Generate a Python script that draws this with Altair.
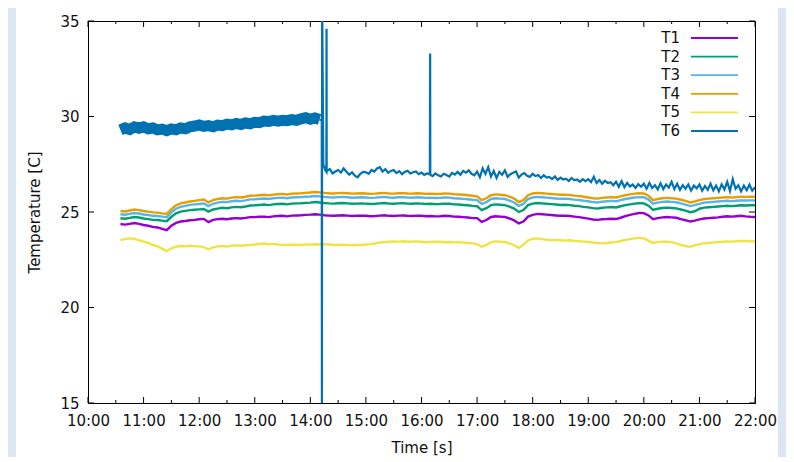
import altair as alt
import pandas as pd

series_names = ["T1", "T2", "T3", "T4", "T5", "T6"]
series_colors = ["#9400d3", "#009e73", "#56b4e9", "#e69f00", "#f0e442", "#0072b2"]

# 5-minute readings, 10:35 .. 22:00
t1 = [24.37, 24.34, 24.38, 24.42, 24.38,
      24.32, 24.28, 24.22, 24.19, 24.12, 24.05, 24.28, 24.43, 24.50, 24.53, 24.57, 24.59,
      24.62, 24.64, 24.47, 24.59, 24.63, 24.65, 24.62, 24.66, 24.68, 24.66, 24.69, 24.73,
      24.73, 24.75, 24.76, 24.73, 24.77, 24.79, 24.80, 24.77, 24.81, 24.82, 24.83, 24.85,
      24.86, 24.88, 24.86, 24.83, 24.81, 24.80, 24.82, 24.83, 24.81, 24.79, 24.80, 24.81,
      24.80, 24.78, 24.79, 24.81, 24.83, 24.80, 24.79, 24.81, 24.82, 24.80, 24.79, 24.81,
      24.80, 24.78, 24.79, 24.77, 24.78, 24.80, 24.79, 24.76, 24.75, 24.73, 24.71, 24.68,
      24.68, 24.48, 24.58, 24.74, 24.78, 24.76, 24.74, 24.66, 24.56, 24.40, 24.50, 24.76,
      24.85, 24.90, 24.88, 24.86, 24.84, 24.82, 24.80, 24.81, 24.79, 24.76, 24.73, 24.69,
      24.65, 24.61, 24.59, 24.62, 24.63, 24.65, 24.63, 24.70, 24.78, 24.85, 24.90, 24.95,
      24.94, 24.82, 24.62, 24.68, 24.72, 24.74, 24.72, 24.70, 24.63, 24.57, 24.50, 24.55,
      24.61, 24.66, 24.68, 24.70, 24.72, 24.75, 24.78, 24.76, 24.78, 24.80, 24.77, 24.75,
      24.74]
t2 = [24.67, 24.65, 24.69, 24.74, 24.71,
      24.66, 24.63, 24.59, 24.58, 24.55, 24.52, 24.75, 24.93, 25.02, 25.06, 25.10, 25.12,
      25.14, 25.16, 25.02, 25.13, 25.18, 25.22, 25.20, 25.24, 25.27, 25.25, 25.29, 25.34,
      25.35, 25.37, 25.39, 25.36, 25.40, 25.42, 25.43, 25.40, 25.44, 25.45, 25.46, 25.48,
      25.49, 25.52, 25.50, 25.47, 25.45, 25.44, 25.46, 25.47, 25.45, 25.43, 25.44, 25.45,
      25.44, 25.42, 25.43, 25.45, 25.47, 25.44, 25.43, 25.45, 25.46, 25.44, 25.43, 25.45,
      25.44, 25.42, 25.43, 25.41, 25.42, 25.44, 25.43, 25.40, 25.39, 25.37, 25.35, 25.32,
      25.30, 25.10, 25.20, 25.36, 25.40, 25.38, 25.36, 25.28, 25.18, 25.00, 25.10, 25.36,
      25.44, 25.47, 25.45, 25.43, 25.41, 25.39, 25.37, 25.38, 25.36, 25.33, 25.31, 25.27,
      25.24, 25.20, 25.18, 25.22, 25.24, 25.26, 25.24, 25.30, 25.36, 25.40, 25.44, 25.46,
      25.45, 25.33, 25.11, 25.17, 25.21, 25.23, 25.21, 25.19, 25.13, 25.07, 24.99, 25.04,
      25.17, 25.23, 25.25, 25.27, 25.29, 25.31, 25.33, 25.31, 25.33, 25.35, 25.34, 25.35,
      25.35]
t3 = [24.88, 24.86, 24.90, 24.95, 24.92,
      24.87, 24.84, 24.80, 24.79, 24.76, 24.73, 24.98, 25.17, 25.27, 25.32, 25.37, 25.40,
      25.42, 25.45, 25.31, 25.43, 25.49, 25.53, 25.52, 25.56, 25.59, 25.57, 25.61, 25.66,
      25.67, 25.69, 25.71, 25.68, 25.72, 25.74, 25.75, 25.72, 25.76, 25.77, 25.78, 25.80,
      25.81, 25.84, 25.82, 25.79, 25.77, 25.76, 25.78, 25.79, 25.77, 25.75, 25.76, 25.77,
      25.76, 25.74, 25.75, 25.77, 25.79, 25.76, 25.75, 25.77, 25.78, 25.76, 25.75, 25.77,
      25.76, 25.74, 25.75, 25.73, 25.74, 25.76, 25.75, 25.72, 25.71, 25.69, 25.67, 25.64,
      25.62, 25.42, 25.52, 25.68, 25.72, 25.70, 25.68, 25.60, 25.50, 25.32, 25.42, 25.68,
      25.76, 25.79, 25.77, 25.75, 25.73, 25.71, 25.69, 25.70, 25.68, 25.65, 25.63, 25.59,
      25.56, 25.52, 25.50, 25.54, 25.56, 25.58, 25.56, 25.62, 25.68, 25.72, 25.76, 25.78,
      25.77, 25.65, 25.43, 25.49, 25.53, 25.55, 25.53, 25.51, 25.45, 25.39, 25.31, 25.36,
      25.43, 25.49, 25.51, 25.53, 25.55, 25.57, 25.59, 25.57, 25.59, 25.61, 25.60, 25.61,
      25.61]
t4 = [25.05, 25.03, 25.08, 25.13, 25.10,
      25.05, 25.02, 24.98, 24.97, 24.93, 24.90, 25.15, 25.35, 25.45, 25.50, 25.55, 25.58,
      25.62, 25.65, 25.50, 25.62, 25.68, 25.72, 25.70, 25.75, 25.78, 25.76, 25.80, 25.85,
      25.86, 25.88, 25.90, 25.87, 25.91, 25.93, 25.95, 25.92, 25.96, 25.97, 25.98, 26.00,
      26.02, 26.05, 26.03, 26.00, 25.98, 25.97, 25.99, 26.00, 25.98, 25.96, 25.97, 25.98,
      25.97, 25.95, 25.96, 25.98, 26.00, 25.97, 25.96, 25.98, 25.99, 25.97, 25.96, 25.98,
      25.97, 25.95, 25.96, 25.94, 25.95, 25.97, 25.96, 25.93, 25.92, 25.90, 25.88, 25.85,
      25.82, 25.62, 25.72, 25.88, 25.92, 25.90, 25.88, 25.80, 25.70, 25.52, 25.62, 25.88,
      25.97, 26.00, 25.98, 25.96, 25.94, 25.92, 25.90, 25.91, 25.89, 25.86, 25.84, 25.80,
      25.76, 25.72, 25.70, 25.74, 25.76, 25.78, 25.76, 25.82, 25.88, 25.92, 25.96, 25.98,
      25.97, 25.85, 25.62, 25.68, 25.72, 25.74, 25.72, 25.70, 25.64, 25.58, 25.50, 25.55,
      25.62, 25.68, 25.70, 25.72, 25.74, 25.76, 25.78, 25.76, 25.78, 25.80, 25.79, 25.80,
      25.80]
t5 = [23.53, 23.58, 23.62, 23.60, 23.52,
      23.45, 23.38, 23.28, 23.20, 23.08, 22.95, 23.10, 23.18, 23.22, 23.20, 23.23, 23.21,
      23.20, 23.16, 23.05, 23.15, 23.20, 23.22, 23.19, 23.23, 23.25, 23.23, 23.26, 23.28,
      23.30, 23.33, 23.35, 23.31, 23.33, 23.30, 23.28, 23.27, 23.29, 23.27, 23.28, 23.30,
      23.29, 23.31, 23.30, 23.32, 23.30, 23.28, 23.27, 23.29, 23.28, 23.26, 23.27, 23.28,
      23.30, 23.32, 23.36, 23.40, 23.42, 23.44, 23.46, 23.45, 23.47, 23.44, 23.45, 23.46,
      23.44, 23.42, 23.43, 23.45, 23.44, 23.42, 23.43, 23.41, 23.42, 23.40, 23.38, 23.36,
      23.32, 23.18, 23.28, 23.42, 23.46, 23.45, 23.43, 23.36, 23.26, 23.12, 23.28, 23.52,
      23.60, 23.62, 23.58, 23.55, 23.53, 23.54, 23.52, 23.50, 23.52, 23.49, 23.47, 23.45,
      23.43, 23.40, 23.38, 23.36, 23.38, 23.40, 23.42, 23.48, 23.54, 23.58, 23.62, 23.65,
      23.62, 23.50, 23.38, 23.42, 23.45, 23.44, 23.42, 23.36, 23.28, 23.22, 23.18, 23.25,
      23.32, 23.36, 23.38, 23.40, 23.42, 23.44, 23.46, 23.45, 23.47, 23.49, 23.48, 23.47,
      23.46]

# T6 before the disturbance (5-minute readings, 10:35 .. 14:10)
t6_before = [29.30, 29.40, 29.32, 29.45, 29.38,
             29.46, 29.36, 29.40, 29.30, 29.34, 29.26, 29.35, 29.30, 29.40, 29.36, 29.46, 29.50,
             29.56, 29.48, 29.52, 29.46, 29.55, 29.52, 29.60, 29.56, 29.64, 29.58, 29.66, 29.62,
             29.70, 29.68, 29.76, 29.74, 29.80, 29.76, 29.80, 29.78, 29.84, 29.80, 29.88, 29.94,
             29.86, 29.92, 29.84]

# T6 spikes
t6_spike_times = ["14:12:20", "14:12:30", "14:12:45", "14:14:00", "14:16:00",
                  "14:17:20", "14:17:30", "14:17:40", "16:09:20", "16:09:30"]
t6_spike_values = [29.80, 15.00, 36.00, 27.50, 27.20,
                   27.10, 34.60, 27.10, 33.30, 26.95]

# T6 after the disturbance (3-minute readings, 14:18 .. 22:00)
t6_after = [27.15, 27.25, 27.02, 27.12, 27.20, 27.06, 27.28, 27.10, 26.95, 27.08, 26.90, 26.82, 27.00, 27.10,
            27.08, 27.00, 27.20, 27.12, 27.28, 27.35, 27.12, 27.25, 27.05, 27.15, 27.20, 27.04, 27.14, 26.98, 27.10, 27.16, 27.02, 27.08, 27.12, 26.98,
            27.06, 26.94, 27.02, 26.98, 26.88, 27.02, 26.92, 26.86, 27.00, 26.94, 26.85, 27.04, 26.96, 27.10, 26.95, 27.15, 27.06, 27.18, 27.00, 26.92,
            27.12, 26.82, 27.28, 27.00, 27.35, 26.86, 27.15, 26.78, 27.10, 26.95, 27.18, 26.84, 26.98, 27.06, 27.12, 26.80, 26.96, 27.04, 26.90, 26.84,
            27.00, 26.88, 26.94, 26.78, 26.92, 26.80, 26.84, 26.72, 26.86, 26.68, 26.80, 26.70, 26.74, 26.62, 26.78, 26.66, 26.70, 26.58, 26.72, 26.62,
            26.72, 26.56, 26.84, 26.52, 26.68, 26.48, 26.64, 26.52, 26.56, 26.40, 26.58, 26.32, 26.62, 26.30, 26.52, 26.34, 26.44, 26.26, 26.46, 26.32,
            26.48, 26.22, 26.52, 26.26, 26.40, 26.18, 26.50, 26.20, 26.44, 26.28, 26.58, 26.20, 26.48, 26.16, 26.40, 26.22, 26.44, 26.12, 26.38, 26.24,
            26.44, 26.12, 26.36, 26.16, 26.48, 26.14, 26.38, 26.08, 26.45, 26.18, 26.58, 26.10, 26.72, 26.22, 26.40, 26.08, 26.38, 26.14, 26.44, 26.12,
            26.30]

hour_labels = list(range(10, 23))
y_ticks = [15, 20, 25, 30, 35]

DAY = "2020-01-01"
FMT = "%Y-%m-%dT%H:%M:%S"

main_times = pd.date_range(f"{DAY} 10:35", f"{DAY} 22:00", freq="5min")
after_times = pd.date_range(f"{DAY} 14:18", f"{DAY} 22:00", freq="3min")

rows = []
for name, vals in zip(series_names[:5], [t1, t2, t3, t4, t5]):
    assert len(vals) == len(main_times), (name, len(vals))
    for t, v in zip(main_times, vals):
        rows.append({"time": t.strftime(FMT), "series": name, "temp": v})
df_main = pd.DataFrame(rows)

assert len(t6_after) == len(after_times), len(t6_after)
df_t6a = pd.DataFrame({"time": [t.strftime(FMT) for t in main_times[:len(t6_before)]],
                       "temp": t6_before})
b_rows = [{"time": main_times[len(t6_before) - 1].strftime(FMT), "temp": t6_before[-1]}]
b_rows += [{"time": f"{DAY}T{t}", "temp": v} for t, v in zip(t6_spike_times, t6_spike_values)]
b_rows += [{"time": t.strftime(FMT), "temp": v} for t, v in zip(after_times, t6_after)]
df_t6b = pd.DataFrame(b_rows).sort_values("time")

df_major = pd.DataFrame({"time": [f"{DAY}T{h:02d}:00:00" for h in hour_labels]})
df_minor = pd.DataFrame({"time": [f"{DAY}T{h:02d}:30:00" for h in hour_labels[:-1]]})
df_yt = pd.DataFrame({"temp": y_ticks})

W, H = 667, 382
PAD_L, PAD_T, PAD_R, PAD_B = 80, 13, 31, 54
FONT = "DejaVu Sans"

x_scale = alt.Scale(domain=[alt.DateTime(year=2020, month=1, date=1, hours=10),
                            alt.DateTime(year=2020, month=1, date=1, hours=22)])
y_scale = alt.Scale(domain=[15, 35], nice=False, zero=False)

x_axis = alt.Axis(title="Time [s]", values=[alt.DateTime(year=2020, month=1, date=1, hours=h) for h in hour_labels],
                  format="%H:%M", grid=False, ticks=False, domain=False, labelPadding=10,
                  titlePadding=12, labelFlush=False, labelOverlap=False)
y_axis = alt.Axis(title="Temperature [C]", values=y_ticks, grid=False, ticks=False, domain=False,
                  labelPadding=9, titlePadding=17)

X = alt.X("time:T", scale=x_scale, axis=x_axis)
Y = alt.Y("temp:Q", scale=y_scale, axis=y_axis)

lines = alt.Chart(df_main).mark_line(strokeWidth=2.4, clip=True).encode(
    x=X, y=Y,
    color=alt.Color("series:N", scale=alt.Scale(domain=series_names[:5], range=series_colors[:5]), legend=None),
)
t6a = alt.Chart(df_t6a).mark_line(strokeWidth=11, color=series_colors[5], clip=True).encode(x=X, y=Y)
t6b = alt.Chart(df_t6b).mark_line(strokeWidth=2.2, color=series_colors[5], clip=True).encode(x=X, y=Y)

tick_layers = [
    alt.Chart(df_major).mark_rule(color="black").encode(x="time:T", y=alt.value(H), y2=alt.value(H - 6)),
    alt.Chart(df_minor).mark_rule(color="black").encode(x="time:T", y=alt.value(H), y2=alt.value(H - 3)),
    alt.Chart(df_major).mark_rule(color="black").encode(x="time:T", y=alt.value(0), y2=alt.value(6)),
    alt.Chart(df_minor).mark_rule(color="black").encode(x="time:T", y=alt.value(0), y2=alt.value(3)),
    alt.Chart(df_yt).mark_rule(color="black").encode(y="temp:Q", x=alt.value(0), x2=alt.value(6)),
    alt.Chart(df_yt).mark_rule(color="black").encode(y="temp:Q", x=alt.value(W), x2=alt.value(W - 6)),
]

one = pd.DataFrame({"k": [0]})
side_layers = [
    alt.Chart(one).mark_rect(color="#dce6f2").encode(
        x=alt.value(-PAD_L), x2=alt.value(-PAD_L + 8), y=alt.value(-PAD_T), y2=alt.value(H + PAD_B)),
    alt.Chart(one).mark_rect(color="#dce6f2").encode(
        x=alt.value(W + PAD_R - 8), x2=alt.value(W + PAD_R), y=alt.value(-PAD_T), y2=alt.value(H + PAD_B)),
]

legend_layers = []
for i, (name, col) in enumerate(zip(series_names, series_colors)):
    yy = 17 + i * 18.6
    d = pd.DataFrame({"s": [name]})
    legend_layers.append(alt.Chart(d).mark_text(align="right", baseline="middle", fontSize=15, font=FONT, color="#111").encode(
        x=alt.value(592), y=alt.value(yy), text="s:N"))
    legend_layers.append(alt.Chart(d).mark_rule(color=col, strokeWidth=1.8).encode(
        x=alt.value(603), x2=alt.value(650), y=alt.value(yy)))

chart = alt.layer(*side_layers, lines, t6a, t6b, *tick_layers, *legend_layers).properties(
    width=W, height=H,
    autosize=alt.AutoSizeParams(type="none"),
    padding={"left": PAD_L, "top": PAD_T, "right": PAD_R, "bottom": PAD_B},
    background="white",
).configure_view(stroke="black", strokeWidth=1).configure_axis(
    labelFont=FONT, labelFontSize=15, labelColor="#111",
    titleFont=FONT, titleFontSize=15, titleFontWeight="normal", titleColor="#111",
)

chart.save("out.html", embed_options={"renderer": "svg", "actions": False})
